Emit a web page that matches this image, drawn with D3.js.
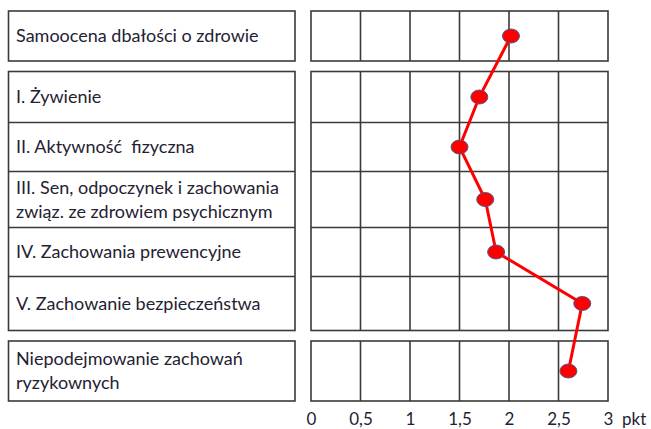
<!DOCTYPE html>
<html>
<head>
<meta charset="utf-8">
<script src="https://cdn.jsdelivr.net/npm/d3@7"></script>
<style>
  body { margin: 0; background: #fff; }
  svg { display: block; }
</style>
</head>
<body>
<svg id="chart" width="651" height="429"></svg>
<script>
// categories (lines of the label), which box group they belong to, and scores in points
const categories = [
  ['Samoocena dbałości o zdrowie'],
  ['I. Żywienie'],
  ['II. Aktywność  fizyczna'],
  ['III. Sen, odpoczynek i zachowania', 'związ. ze zdrowiem psychicznym'],
  ['IV. Zachowania prewencyjne'],
  ['V. Zachowanie bezpieczeństwa'],
  ['Niepodejmowanie zachowań', 'ryzykownych']
];
const groupOf = [0, 1, 1, 1, 1, 1, 2];
const values = [2.02, 1.70, 1.50, 1.76, 1.87, 2.74, 2.60];
const tickValues = [0, 0.5, 1, 1.5, 2, 2.5, 3];
const tickLabels = ['0', '0,5', '1', '1,5', '2', '2,5', '3'];
const unitLabel = 'pkt';

// layout
const rowHeights = [50, 51, 49, 56, 49, 54, 60];
const groupGap = 10.5;
const topY = 11;
const labelBox = { x0: 8.5, x1: 295 };
const lineColor = '#3a3a3a';
const textColor = '#1f2233';
const font = 'Lato, "Open Sans", sans-serif';

const svg = d3.select('#chart');
const x = d3.scaleLinear().domain([0, 3]).range([311, 608]);

// compute row positions
const rows = [];
let y = topY;
categories.forEach((c, i) => {
  if (i > 0 && groupOf[i] !== groupOf[i - 1]) y += groupGap;
  rows.push({ label: c, value: values[i], group: groupOf[i], y0: y, y1: y + rowHeights[i] });
  y += rowHeights[i];
});
rows.forEach(r => { r.cy = (r.y0 + r.y1) / 2; });

const groups = d3.groups(rows, r => r.group).map(([g, rs]) => ({
  y0: rs[0].y0, y1: rs[rs.length - 1].y1, rows: rs
}));

// boxes around label column and grid column
const boxes = svg.append('g').attr('fill', 'none').attr('stroke', lineColor).attr('stroke-width', 1.6);
groups.forEach(g => {
  boxes.append('rect')
    .attr('x', labelBox.x0).attr('y', g.y0)
    .attr('width', labelBox.x1 - labelBox.x0).attr('height', g.y1 - g.y0);
  boxes.append('rect')
    .attr('x', x(0)).attr('y', g.y0)
    .attr('width', x(3) - x(0)).attr('height', g.y1 - g.y0);
  // horizontal separators between rows
  g.rows.slice(1).forEach(r => {
    boxes.append('line').attr('x1', labelBox.x0).attr('x2', labelBox.x1).attr('y1', r.y0).attr('y2', r.y0);
    boxes.append('line').attr('x1', x(0)).attr('x2', x(3)).attr('y1', r.y0).attr('y2', r.y0);
  });
  // vertical grid lines
  tickValues.slice(1, -1).forEach(t => {
    boxes.append('line').attr('x1', x(t)).attr('x2', x(t)).attr('y1', g.y0).attr('y2', g.y1);
  });
});

// category labels
const lineGap = 24;
const labels = svg.append('g')
  .attr('font-family', font).attr('font-size', 18).attr('fill', textColor);
rows.forEach(r => {
  const n = r.label.length;
  r.label.forEach((t, k) => {
    labels.append('text')
      .attr('x', 16)
      .attr('y', r.cy + 6 + (k - (n - 1) / 2) * lineGap)
      .style('white-space', 'pre')
      .text(t);
  });
});

// x axis labels
const axis = d3.axisBottom(x)
  .tickValues(tickValues)
  .tickSize(0)
  .tickPadding(0)
  .tickFormat((d, i) => tickLabels[i]);
const axisG = svg.append('g')
  .attr('transform', 'translate(0,413)')
  .call(axis);
axisG.select('.domain').remove();
axisG.selectAll('text')
  .attr('font-family', font).attr('font-size', 17).attr('fill', textColor).attr('dy', '0.71em');
svg.append('text')
  .attr('x', 622).attr('y', 413).attr('dy', '0.71em')
  .attr('font-family', font).attr('font-size', 17).attr('fill', textColor)
  .text(unitLabel);

// series line and markers
const line = d3.line().x(d => x(d.value)).y(d => d.cy);
svg.append('path')
  .datum(rows)
  .attr('d', line)
  .attr('fill', 'none')
  .attr('stroke', '#ff0000')
  .attr('stroke-width', 3);

svg.append('g')
  .selectAll('ellipse')
  .data(rows)
  .join('ellipse')
  .attr('cx', d => x(d.value))
  .attr('cy', d => d.cy)
  .attr('rx', 8.5)
  .attr('ry', 7)
  .attr('fill', '#ff0000')
  .attr('stroke', '#4a5a8a')
  .attr('stroke-width', 1);
</script>
</body>
</html>
